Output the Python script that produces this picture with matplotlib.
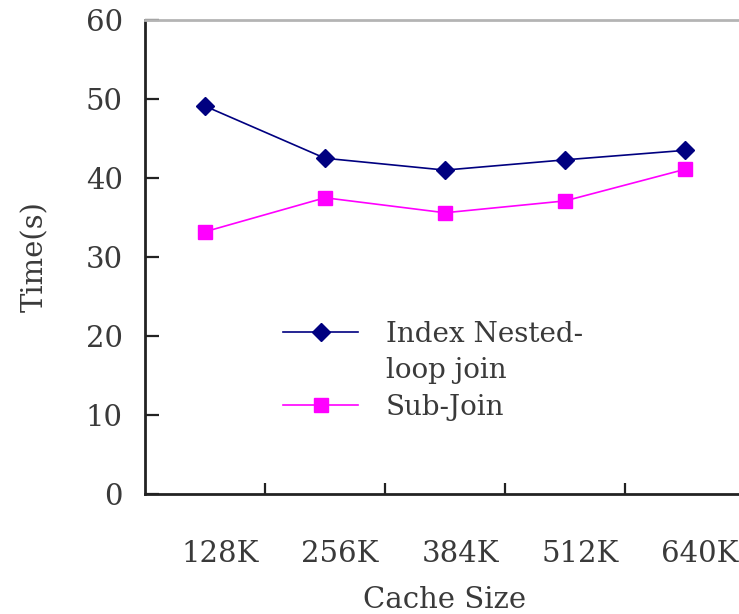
import matplotlib
matplotlib.use("Agg")
import matplotlib.pyplot as plt
import matplotlib.transforms as mtransforms
from matplotlib.ticker import FixedLocator
from matplotlib.lines import Line2D

categories = ["128K", "256K", "384K", "512K", "640K"]
inlj = [49.1, 42.5, 41.0, 42.3, 43.5]
subjoin = [33.2, 37.5, 35.6, 37.1, 41.1]
legend_labels = ["Index Nested-", "loop join", "Sub-Join"]
yticks = [0, 10, 20, 30, 40, 50, 60]

plt.rcParams['font.family'] = ['DejaVu Serif']
TXT = '#3a3a3a'

fig = plt.figure(figsize=(7.39, 6.14), dpi=100)
ax = fig.add_axes([145/739, 1-494/614, 600/739, 474/614])

x = list(range(len(categories)))
l1, = ax.plot(x, inlj, color='#000080', lw=1.2, marker='D', ms=9)
l2, = ax.plot(x, subjoin, color='#FF00FF', lw=1.2, marker='s', ms=10)

ax.set_xlim(-0.5, len(categories) - 0.5)
ax.set_ylim(0, 60)
ax.set_yticks(yticks)
ax.set_yticklabels([str(v) for v in yticks], fontsize=21, color=TXT)
ax.set_xticks(x)
ax.set_xticklabels(categories, fontsize=21, color=TXT)
ax.tick_params(axis='x', which='major', length=0, pad=33)
offset = mtransforms.ScaledTranslation(15/100, 0, fig.dpi_scale_trans)
for lab in ax.get_xticklabels():
    lab.set_transform(lab.get_transform() + offset)
ax.xaxis.set_minor_locator(FixedLocator([i + 0.5 for i in x[:-1]]))
ax.tick_params(axis='x', which='minor', direction='in', length=8, width=1.6, color='#222222')
ax.tick_params(axis='y', direction='in', length=10, width=1.6, color='#222222', pad=16)

for s in ['left', 'bottom']:
    ax.spines[s].set_linewidth(2)
    ax.spines[s].set_color('#222222')
ax.spines['top'].set_color('#b4b4b4')
ax.spines['top'].set_linewidth(2)
ax.spines['right'].set_visible(False)

ax.set_ylabel("Time(s)", fontsize=21, color=TXT, labelpad=26)
ax.set_xlabel("Cache Size", fontsize=21, color=TXT, labelpad=13)

blank = Line2D([], [], color='none')
leg = ax.legend([l1, blank, l2], legend_labels, loc='upper left',
                bbox_to_anchor=(0.23, 0.365), frameon=False, borderpad=0,
                borderaxespad=0, fontsize=20, handlelength=2.7,
                labelspacing=0.34, handletextpad=1.0)
for t in leg.get_texts():
    t.set_color(TXT)

fig.savefig("out.png", dpi=100)
